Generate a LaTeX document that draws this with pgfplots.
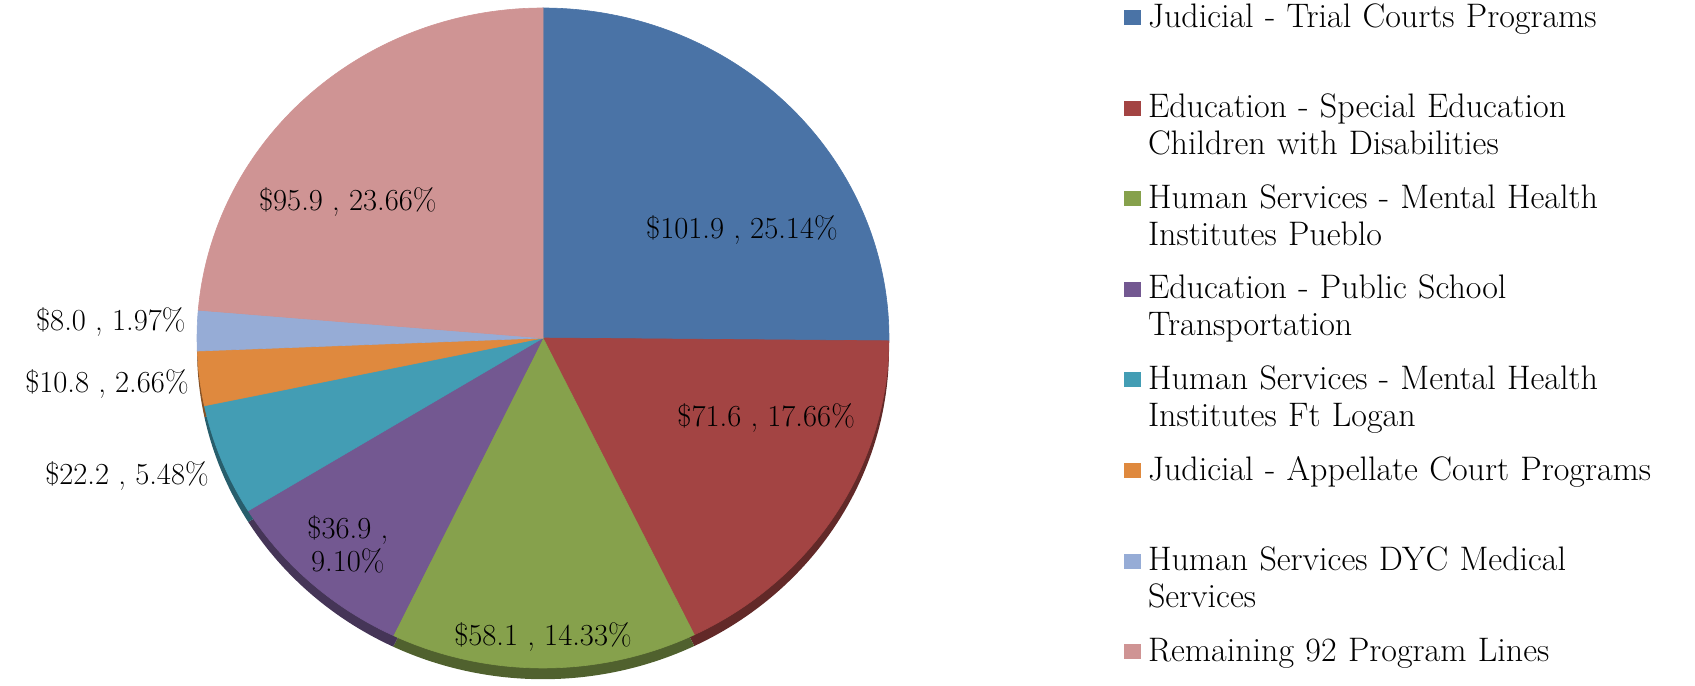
\documentclass[border=0pt]{standalone}
\usepackage{fontspec}
\usepackage{pgfplots}
\usepackage{pgfplotstable}
\pgfplotsset{compat=1.18}

\definecolor{c0}{HTML}{4A73A6}
\definecolor{c1}{HTML}{A34443}
\definecolor{c2}{HTML}{86A14C}
\definecolor{c3}{HTML}{735891}
\definecolor{c4}{HTML}{439DB4}
\definecolor{c5}{HTML}{DF893E}
\definecolor{c6}{HTML}{96ACD6}
\definecolor{c7}{HTML}{CF9494}

% Values in $ millions, clockwise from 12 o'clock
\pgfplotstableread{
value
101.9
71.6
58.1
36.9
22.2
10.8
8.0
95.9
}\piedata

\begin{document}
\begin{tikzpicture}
\useasboundingbox (0,0) rectangle (847.5pt,342.5pt);
\begin{axis}[
  at={(271.5pt,173.5pt)}, anchor=center,
  scale only axis, width=346pt, height=330pt,
  xmin=-1, xmax=1, ymin=-1, ymax=1,
  hide axis, clip=false,
  legend image code/.code={\fill[#1, draw=none] (0pt,1pt) rectangle (8.5pt,8.5pt);},
  legend style={
    at={(axis cs:1.6792,1.0151)}, anchor=north west,
    draw=none, fill=none, inner sep=0pt, outer sep=0pt,
    row sep=0pt, column sep=3.5pt,
    font=\fontsize{17}{18.4}\selectfont,
    nodes={inner sep=0pt, outer sep=0pt, text width=290pt, text height=12pt, text depth=33.3pt, anchor=base west, align=left},
  },
]
\pgfplotsextra{
  \xdef\total{0}
  \foreach \i in {0,...,7}{
    \pgfplotstablegetelem{\i}{value}\of\piedata
    \pgfmathparse{\total+\pgfplotsretval}\xdef\total{\pgfmathresult}
  }
  % side (3-D rim)
  \xdef\startang{90}
  \foreach \i in {0,...,7}{
    \pgfplotstablegetelem{\i}{value}\of\piedata
    \pgfmathsetmacro\endang{\startang-\pgfplotsretval/\total*360}
    \pgfmathsetmacro\sx{cos(\startang)}
    \pgfmathsetmacro\sy{sin(\startang)-0.034}
    \fill[c\i!60!black] (axis cs:0,-0.034) -- (axis cs:\sx,\sy)
      arc[start angle=\startang, end angle=\endang, x radius=1, y radius=1] -- cycle;
    \xdef\startang{\endang}
  }
  % top faces
  \xdef\startang{90}
  \foreach \i in {0,...,7}{
    \pgfplotstablegetelem{\i}{value}\of\piedata
    \pgfmathsetmacro\endang{\startang-\pgfplotsretval/\total*360}
    \pgfmathsetmacro\sx{cos(\startang)}
    \pgfmathsetmacro\sy{sin(\startang)}
    \filldraw[fill=c\i, draw=c\i, line width=0.3pt] (axis cs:0,0) -- (axis cs:\sx,\sy)
      arc[start angle=\startang, end angle=\endang, x radius=1, y radius=1] -- cycle;
    \xdef\startang{\endang}
  }
}
\begin{scope}[font=\fontsize{15.3}{16.5}\selectfont]
\node at (axis cs:0.575,0.327) {\$101.9 , 25.14\%};
\node at (axis cs:0.645,-0.242) {\$71.6 , 17.66\%};
\node at (axis cs:0,-0.906) {\$58.1 , 14.33\%};
\node[align=center] at (axis cs:-0.564,-0.624) {\$36.9 ,\\9.10\%};
\node[anchor=east, inner sep=0pt] at (axis cs:-0.965,-0.418) {\$22.2 , 5.48\%};
\node[anchor=east, inner sep=0pt] at (axis cs:-1.023,-0.139) {\$10.8 , 2.66\%};
\node[anchor=east, inner sep=0pt] at (axis cs:-1.032,0.048) {\$8.0 , 1.97\%};
\node at (axis cs:-0.564,0.412) {\$95.9 , 23.66\%};
\end{scope}

\addlegendimage{fill=c0}\addlegendentry{Judicial - Trial Courts Programs}
\addlegendimage{fill=c1}\addlegendentry{Education - Special Education\\Children with Disabilities}
\addlegendimage{fill=c2}\addlegendentry{Human Services - Mental Health\\Institutes Pueblo}
\addlegendimage{fill=c3}\addlegendentry{Education - Public School\\Transportation}
\addlegendimage{fill=c4}\addlegendentry{Human Services - Mental Health\\Institutes Ft Logan}
\addlegendimage{fill=c5}\addlegendentry{Judicial - Appellate Court Programs}
\addlegendimage{fill=c6}\addlegendentry{Human Services DYC Medical\\Services}
\addlegendimage{fill=c7}\addlegendentry{Remaining 92 Program Lines}
\end{axis}
\end{tikzpicture}
\end{document}
